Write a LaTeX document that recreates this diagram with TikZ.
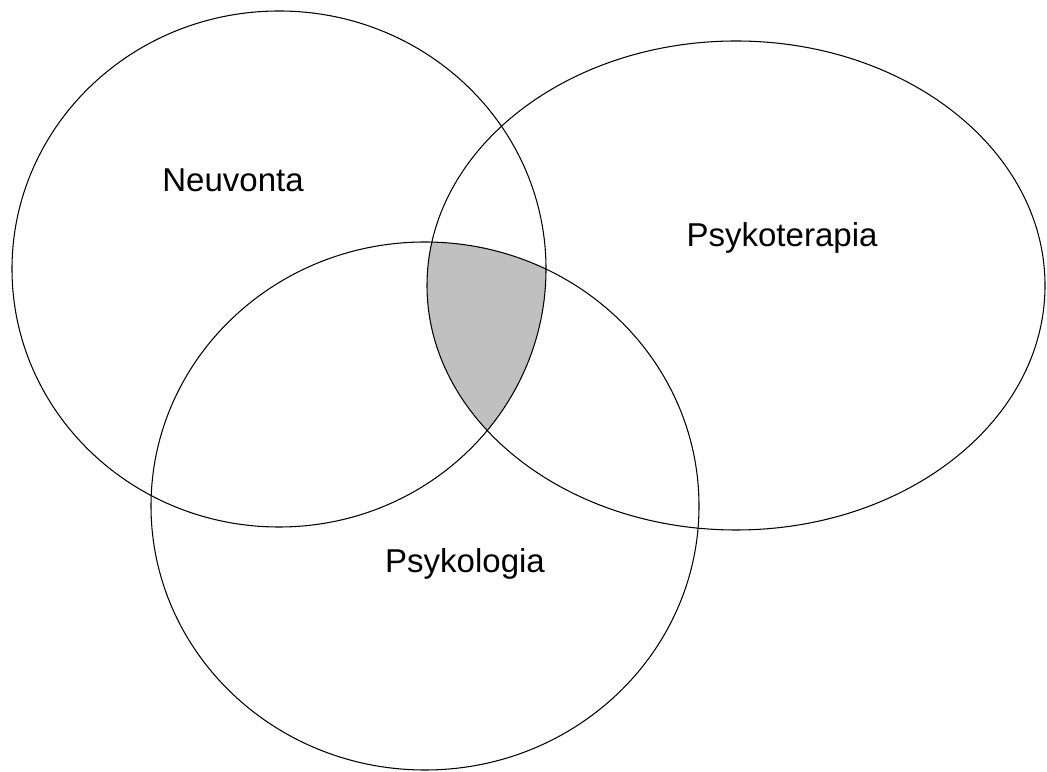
\documentclass[tikz,border=0pt]{standalone}
\usepackage{fontspec}
\setmainfont{Liberation Sans}
\usepackage{xcolor}
\definecolor{overlap}{RGB}{192,192,192}

\begin{document}
\begin{tikzpicture}[scale=1.0,
    setname/.style={font=\fontsize{18.8}{22}\selectfont, anchor=base, inner sep=0pt},
    setline/.style={draw, line width=0.6pt}]
    \useasboundingbox (0,0) rectangle (20.94,15.42);

    % common part of all three sets
    \begin{scope}
        \clip (5.58,10.04) ellipse [x radius=5.34, y radius=5.16];
        \clip (14.72,9.71) ellipse [x radius=6.18, y radius=4.89];
        \fill[overlap] (8.50,5.30) ellipse [x radius=5.48, y radius=5.28];
    \end{scope}

    \draw[setline] (5.58,10.04) ellipse [x radius=5.34, y radius=5.16];
    \draw[setline] (14.72,9.71) ellipse [x radius=6.18, y radius=4.89];
    \draw[setline] (8.50,5.30) ellipse [x radius=5.48, y radius=5.28];

    \node[setname] (neuvonta) at (4.66,11.58) {Neuvonta};
    \node[setname] (terapia) at (15.64,10.49) {Psykoterapia};
    \node[setname] (psykologia) at (9.30,3.96) {Psykologia};
\end{tikzpicture}
\end{document}
